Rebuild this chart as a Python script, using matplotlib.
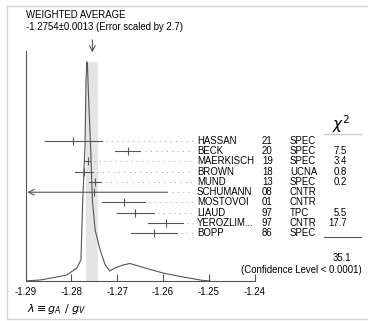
import matplotlib.pyplot as plt
import matplotlib.transforms as mtransforms
from matplotlib.patches import Rectangle

plt.rcParams['font.family'] = ['Liberation Sans', 'DejaVu Sans']
plt.rcParams['axes.unicode_minus'] = False

# measurements
names = ['HASSAN', 'BECK', 'MAERKISCH', 'BROWN', 'MUND', 'SCHUMANN',
         'MOSTOVOI', 'LIAUD', 'YEROZLIM...', 'BOPP']
years = ['21', '20', '19', '18', '13', '08', '01', '97', '97', '86']
techs = ['SPEC', 'SPEC', 'SPEC', 'UCNA', 'SPEC', 'CNTR', 'CNTR', 'TPC', 'CNTR', 'SPEC']
values = [-1.2796, -1.2677, -1.27641, -1.2772, -1.2748, -1.275,
          -1.2686, -1.266, -1.2594, -1.262]
errors = [0.0062, 0.0028, 0.00056, 0.0020, 0.0013, 0.016,
          0.0046, 0.004, 0.0038, 0.005]
chi2 = ['', '7.5', '3.4', '0.8', '0.2', '', '', '5.5', '17.7', '']
chi2_total = '35.1'

avg = -1.2754
avg_err = 0.0013

# ideogram curve (x, height)
ideo_x = [-1.2901, -1.2868, -1.2840, -1.2810, -1.2788, -1.2779, -1.2777, -1.2775,
          -1.2770, -1.2768, -1.2766, -1.2765, -1.2762, -1.2758, -1.2754, -1.2748,
          -1.2737, -1.2726, -1.2716, -1.2705, -1.2687, -1.2672, -1.2639, -1.2600,
          -1.2556, -1.2512, -1.2497]
ideo_y = [0, 1, 3.3, 6, 13, 21, 51, 81, 136, 200, 219, 219, 180, 136, 81, 51,
          31, 16, 10, 13, 16, 17.5, 13, 8, 4, 0.5, 0]

xticks = [-1.29, -1.28, -1.27, -1.26, -1.25, -1.24]

W, H = 368, 321
fig = plt.figure(figsize=(W / 100, H / 100), dpi=100)


def fx(px):
    return px / W


def fy(py):
    return 1 - py / H


fig.patches.append(Rectangle((fx(7), fy(319)), fx(400), fy(6) - fy(319),
                             transform=fig.transFigure, fill=False,
                             edgecolor='#d4d4d4', lw=1))

ax = fig.add_axes([fx(25.5), fy(281), fx(229), fy(51) - fy(281)])
ax.set_xlim(-1.29, -1.24)
ax.set_ylim(0, 230)
ax.patch.set_alpha(0)
for s in ['top', 'right']:
    ax.spines[s].set_visible(False)
for s in ['left', 'bottom']:
    ax.spines[s].set_color('#555555')
    ax.spines[s].set_linewidth(0.8)
ax.set_yticks([])
ax.set_xticks(xticks)
ax.set_xticklabels(['%.2f' % t for t in xticks], fontsize=6.9)
ax.tick_params(axis='x', direction='in', length=5, width=0.8, color='#555555', pad=4)

ax.fill_betweenx([0, max(ideo_y)], avg - avg_err, avg + avg_err, color='#e4e4e4', lw=0)
ax.plot(ideo_x, ideo_y, color='#555555', lw=0.8)
ax.annotate('', xy=(avg, 226), xytext=(avg, 244), annotation_clip=False,
            arrowprops=dict(arrowstyle='->', color='#444444', lw=0.7))

# rows
ax2 = ax.twinx()
ax2.set_ylim(13.66, -8.78)
ax2.axis('off')
trans = mtransforms.blended_transform_factory(fig.transFigure, ax2.transData)
name_x = -1.29 + (193 - 25.5) / 4580
for i, (v, e) in enumerate(zip(values, errors)):
    lo = max(v - e, -1.2896)
    hi = v + e
    if v - e < -1.29:
        ax2.annotate('', xy=(lo, i), xytext=(hi, i),
                     arrowprops=dict(arrowstyle='->', color='#555555', lw=0.8,
                                     shrinkA=0, shrinkB=0))
    else:
        ax2.plot([lo, hi], [i, i], color='#555555', lw=0.8)
    ax2.plot([v], [i], marker='|', ms=6, mew=0.8, color='#555555')
    ax2.plot([hi + 0.0009, name_x], [i, i], color='#999999', lw=0.7,
             ls=(0, (1, 4.5)), clip_on=False)
    ax2.text(fx(197), i, names[i], transform=trans, fontsize=6.9, va='center')
    ax2.text(fx(262), i, years[i], transform=trans, fontsize=6.9, va='center')
    ax2.text(fx(290), i, techs[i], transform=trans, fontsize=6.9, va='center')
    ax2.text(fx(347), i, chi2[i], transform=trans, fontsize=6.9, va='center', ha='right')

fig.text(fx(341), fy(124), r'$\chi^2$', fontsize=11, ha='center', va='center')
fig.add_artist(plt.Line2D([fx(324), fx(361)], [fy(134), fy(134)], color='#cccccc', lw=1))
fig.add_artist(plt.Line2D([fx(324), fx(361)], [fy(237), fy(237)], color='#555555', lw=0.8))
fig.text(fx(351), fy(258), chi2_total, fontsize=6.9, ha='right', va='center')
fig.text(fx(362), fy(270), '(Confidence Level < 0.0001)', fontsize=6.9, ha='right', va='center')

fig.text(fx(26), fy(15), 'WEIGHTED AVERAGE', fontsize=6.9, va='center')
fig.text(fx(26), fy(27), '-1.2754\u00b10.0013 (Error scaled by 2.7)', fontsize=6.9, va='center')
fig.text(fx(27), fy(309), r'$\lambda \equiv g_A\ /\ g_V$', fontsize=8, va='center')

fig.savefig('out.png', dpi=100)
